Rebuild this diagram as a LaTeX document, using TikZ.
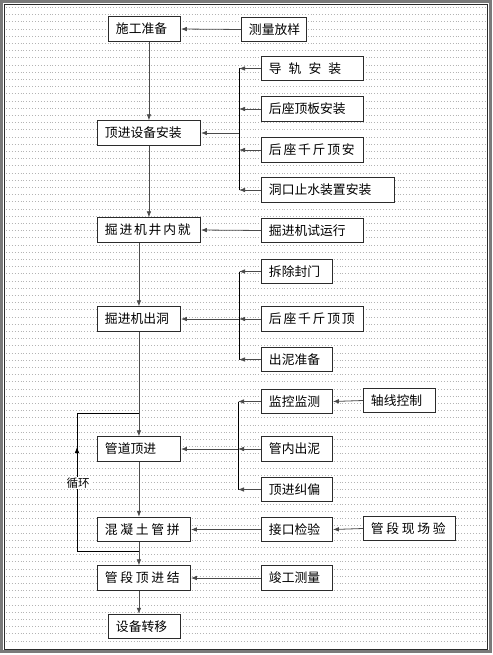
\documentclass[tikz,border=0pt]{standalone}
\usepackage{fontspec}
\usepackage{tikz}
\usetikzlibrary{calc,positioning,arrows.meta}
\newfontfamily\cjk{Noto Sans CJK SC}
\definecolor{flowInk}{HTML}{2B2B2B}
\definecolor{flowLine}{HTML}{4A4A4A}
\definecolor{flowRule}{HTML}{B4B4B4}
\definecolor{flowFrame}{HTML}{7A7A7A}
\newcommand{\kgap}[1]{\hspace{#1pt}}

\begin{document}
\begin{tikzpicture}[x=1pt,y=-1pt,
  box/.style={draw=flowInk,line width=.9pt,fill=white,anchor=west,minimum height=24.5pt,inner xsep=7.5pt,inner ysep=0pt,align=left,font=\cjk\fontsize{12.8}{14}\selectfont,text=black},
  arr/.style={-{Latex[length=6pt,width=4.6pt]},line width=.8pt,flowLine},
  brk/.style={line width=1pt,black},
  rule/.style={flowRule,line width=.6pt,dash pattern=on .9pt off 2pt}
]
  \useasboundingbox (0,0) rectangle (492,655);
  \foreach \k in {0,...,88}
    \draw[rule] (6,7.3+7.2*\k) -- (486,7.3+7.2*\k);
  \draw[line width=3pt,flowFrame] (1.5,1.5) rectangle (490.5,651.5);
  \draw[line width=.8pt,flowInk] (4,4) rectangle (487.5,649);

  \node[box,text width=57pt] (sg) at (108,29) {施工准备};
  \node[box,text width=50pt] (cl) at (241,29.5) {测量放样};
  \node[box,text width=88pt] (az) at (97,133) {顶进设备安装};
  \node[box,text width=87pt] (dg) at (261,68.5) {导\kgap{7}轨\kgap{7}安\kgap{7}装};
  \node[box,text width=87pt] (hb) at (261,109) {后座顶板安装};
  \node[box,text width=87pt] (hq) at (261,150) {后\kgap{1.8}座\kgap{1.8}千\kgap{1.8}斤\kgap{1.8}顶\kgap{1.8}安};
  \node[box,text width=118pt] (dk) at (261,190) {洞口止水装置安装};
  \node[box,text width=88pt] (jn) at (97,230) {掘\kgap{1.8}进\kgap{1.8}机\kgap{1.8}井\kgap{1.8}内\kgap{1.8}就};
  \node[box,text width=87pt] (sy) at (261,230.5) {掘进机试运行};
  \node[box,text width=68pt] (cd) at (97,319) {掘进机出洞};
  \node[box,text width=56pt] (cc) at (261,271.5) {拆除封门};
  \node[box,text width=87pt] (hd) at (261,319) {后\kgap{1.8}座\kgap{1.8}千\kgap{1.8}斤\kgap{1.8}顶\kgap{1.8}顶};
  \node[box,text width=56pt] (cn) at (261,359.5) {出泥准备};
  \node[box,text width=56pt] (jk) at (261,401.5) {监控监测};
  \node[box,text width=57pt] (zx) at (363,400.5) {轴线控制};
  \node[box,text width=56pt] (gn) at (261,449) {管内出泥};
  \node[box,text width=56pt] (jp) at (261,489.5) {顶进纠偏};
  \node[box,text width=68pt] (gd) at (97,449) {管道顶进};
  \node[box,text width=78pt] (hn) at (97,529.5) {混\kgap{2.7}凝\kgap{2.7}土\kgap{2.7}管\kgap{2.7}拼};
  \node[box,text width=56pt] (jy) at (261,529.5) {接口检验};
  \node[box,text width=77pt] (xc) at (363,528.5) {管\kgap{2.7}段\kgap{2.7}现\kgap{2.7}场\kgap{2.7}验};
  \node[box,text width=78pt] (gj) at (97,578) {管\kgap{2.7}段\kgap{2.7}顶\kgap{2.7}进\kgap{2.7}结};
  \node[box,text width=56pt] (jg) at (261,578) {竣工测量};
  \node[box,text width=57pt] (zy) at (108,626.5) {设备转移};

  \coordinate (b1) at (239,0);
  \coordinate (b3) at (238,0);
  \coordinate (lpT) at (138.5,413);
  \coordinate (lpB) at (138.5,551);
  \coordinate (lpL) at (77,0);
  \coordinate (lpA) at (77,447);

  \draw[arr] (sg.south -| az.north) -- (az.north);
  \draw[arr] (az.south) -- (jn.north);
  \draw[arr] (jn.south -| cd.north) -- (cd.north);
  \draw[arr] (cd.south) -- (gd.north);
  \draw[arr] (gd.south) -- (gd.south |- hn.north);
  \draw[arr] (gd.south |- hn.south) -- (gd.south |- gj.north);
  \draw[arr] (gd.south |- gj.south) -- (gd.south |- zy.north);

  \draw[arr] (cl.west) -- (sg.east);
  \draw[arr] (sy.west) -- (jn.east);
  \draw[arr] (zx.west) -- (jk.east);
  \draw[arr] (xc.west) -- (jy.east);
  \draw[arr] (jy.west) -- (hn.east);
  \draw[arr] (jg.west) -- (gj.east);

  \draw[brk] (dg.west -| b1) -- (dk.west -| b1);
  \foreach \n in {dg,hb,hq,dk}
    \draw[arr] (\n.west) -- (\n.west -| b1);
  \draw[arr] (az.east -| b1) -- (az.east);

  \draw[brk] (cc.west -| b1) -- (cn.west -| b1);
  \foreach \n in {cc,hd,cn}
    \draw[arr] (\n.west) -- (\n.west -| b1);
  \draw[arr] (hd.west -| b1) -- (cd.east);

  \draw[brk] (jk.west -| b3) -- (jp.west -| b3);
  \foreach \n in {jk,gn,jp}
    \draw[arr] (\n.west) -- (\n.west -| b3);
  \draw[arr] (gn.west -| b3) -- (gd.east);

  \draw[brk] (lpB) -- (lpB -| lpL) -- (lpT -| lpL) -- (lpT);
  \draw[arr,black] (lpB -| lpL) -- (lpA);
  \node[fill=white,inner sep=1pt,font=\cjk\fontsize{11.5}{13}\selectfont] (xh) at (78,483) {循环};
\end{tikzpicture}
\end{document}
